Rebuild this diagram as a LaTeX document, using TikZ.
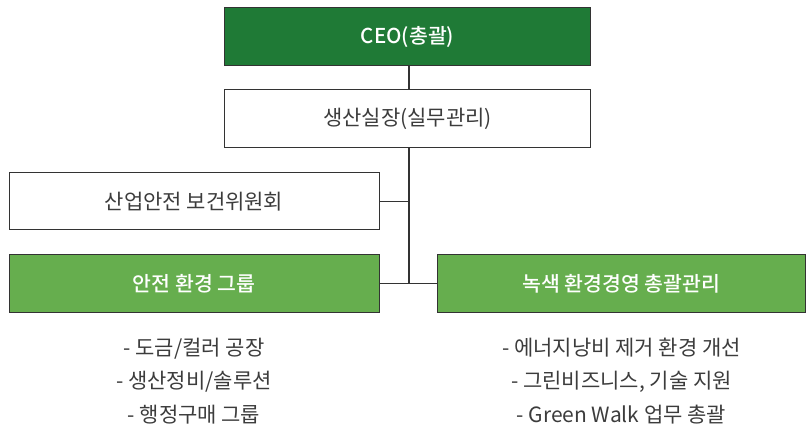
\documentclass[tikz,border=0pt]{standalone}
\usepackage{fontspec}
\setmainfont{Noto Sans CJK KR}[BoldFont={Noto Sans CJK KR Medium}]
\usepackage{tikz}
\usetikzlibrary{positioning,calc}
\usepackage{xcolor}
\definecolor{ceogreen}{HTML}{1F7A36}
\definecolor{leafgreen}{HTML}{66AE4E}
\definecolor{edgegray}{HTML}{333333}
\definecolor{textgray}{HTML}{3C3C3C}

\begin{document}
\begin{tikzpicture}[x=1pt, y=-1pt,
    box/.style={draw=edgegray, line width=1pt, minimum width=366pt, minimum height=58pt,
      inner sep=0pt, font=\fontsize{21}{24}\selectfont, text=textgray},
    topbox/.style={box, fill=ceogreen, text=white, font=\fontsize{20.5}{24}\selectfont\bfseries},
    groupbox/.style={box, fill=leafgreen, text=white, font=\fontsize{20.5}{24}\selectfont\bfseries},
    duties/.style={align=center, text=textgray, font=\fontsize{21}{33.5}\selectfont},
    link/.style={draw=edgegray, line width=1.2pt}]
  \useasboundingbox (0,0) rectangle (807,441);
  % top of the tree
  \node[topbox] (ceo) at (407.5,37) {CEO(총괄)};
  \node[box, fill=white] (prod) at (407.5,119) {생산실장(실무관리)};
  % left side
  \node[box, fill=white, minimum width=370pt, minimum height=57pt] (comm) at (194,201.5) {산업안전 보건위원회};
  \node[groupbox, minimum width=370pt, minimum height=57pt] (safety) at (194,283.5) {안전 환경 그룹};
  % right side
  \node[groupbox, minimum width=368pt] (green) at (621.5,283.5) {녹색 환경경영 총괄관리};
  \node[duties] (safetylist) at (194,381) {- 도금/컬러 공장\\- 생산정비/솔루션\\- 행정구매 그룹};
  \node[duties] (greenlist) at (621.5,381) {- 에너지낭비 제거 환경 개선\\- 그린비즈니스, 기술 지원\\- Green Walk 업무 총괄};
  % connectors
  \coordinate (spine) at (409,201.5);
  \draw[link] (ceo.south -| spine) -- (prod.north -| spine);
  \draw[link] (prod.south -| spine) -- (safety.east -| spine);
  \draw[link] (comm.east) -- (spine);
  \draw[link] (safety.east) -- (green.west);
\end{tikzpicture}
\end{document}
